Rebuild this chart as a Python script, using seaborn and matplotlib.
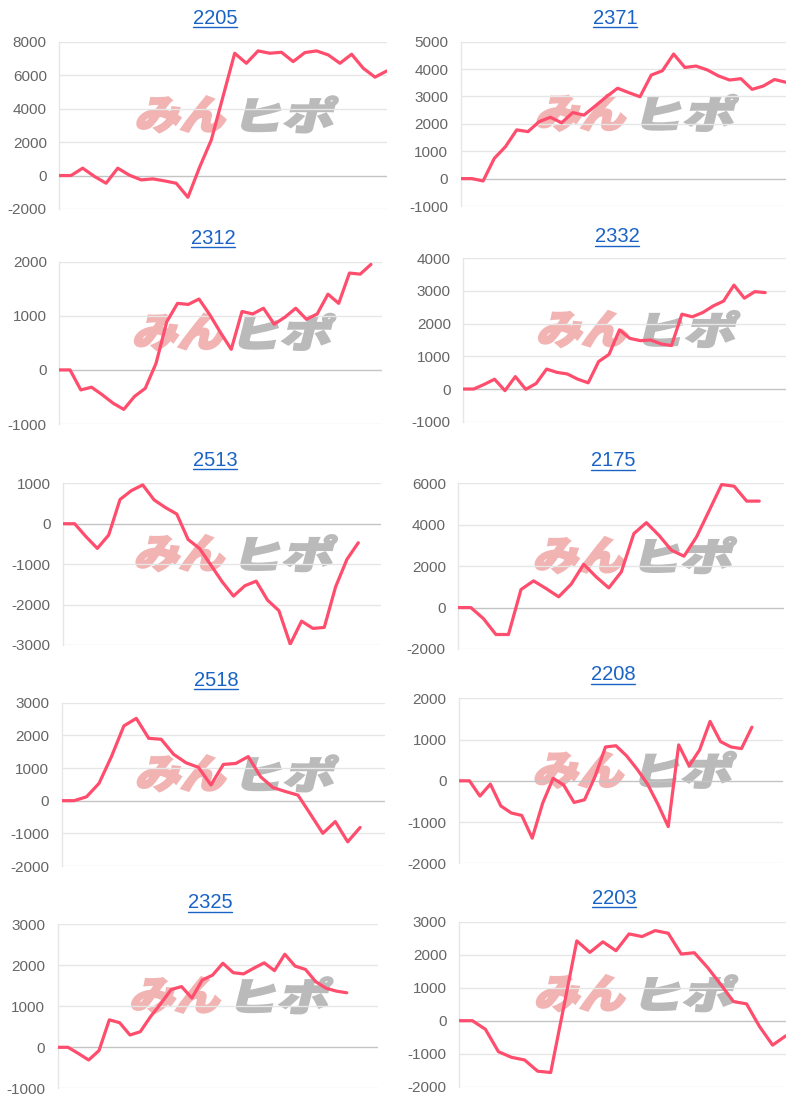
import numpy as np
import pandas as pd
import matplotlib
matplotlib.use("Agg")
import matplotlib.pyplot as plt
import seaborn as sns
from matplotlib.textpath import TextPath
from matplotlib.font_manager import FontProperties
from matplotlib.patches import PathPatch
from matplotlib.lines import Line2D
from matplotlib import transforms

# ---------------- data ----------------
titles = ["2205", "2371", "2312", "2332", "2513", "2175", "2518", "2208", "2325", "2203"]

v2205 = [0, 0, 440, -50, -460, 440, 20, -260, -200, -320, -460, -1300, 500, 2130, 4720,
         7310, 6710, 7450, 7310, 7370, 6810, 7350, 7450, 7210, 6710, 7250, 6410, 5880, 6250]
v2371 = [0, 0, -85, 740, 1170, 1780, 1715, 2080, 2240, 2040, 2410, 2320, 2650, 2990, 3300,
         3140, 2990, 3780, 3940, 4550, 4060, 4110, 3970, 3750, 3600, 3650, 3260, 3380, 3620, 3520]
v2312 = [0, 0, -370, -320, -460, -615, -730, -490, -340, 120, 890, 1230, 1210, 1310, 1020,
         690, 380, 1080, 1035, 1140, 845, 975, 1140, 935, 1035, 1400, 1230, 1790, 1770, 1950, None]
v2332 = [0, 0, 140, 300, -50, 380, -10, 170, 610, 510, 460, 300, 190, 840, 1060, 1810, 1550,
         1480, 1500, 1380, 1330, 2290, 2210, 2340, 2540, 2690, 3180, 2780, 2980, 2950, None, None]
v2513 = [0, 0, -320, -610, -280, 600, 820, 960, 590, 400, 240, -390, -610, -1020, -1435,
         -1790, -1535, -1420, -1890, -2150, -2980, -2410, -2590, -2565, -1560, -880, -470, None, None]
v2175 = [0, 0, -530, -1300, -1300, 870, 1290, 920, 520, 1130, 2090, 1480, 950, 1720, 3570,
         4100, 3490, 2770, 2480, 3410, 4670, 5940, 5860, 5140, 5140, None, None]
v2518 = [0, 0, 120, 530, 1350, 2290, 2520, 1910, 1880, 1420, 1160, 1020, 480, 1110, 1140,
         1350, 730, 400, 280, 170, -410, -1000, -640, -1260, -820, None, None]
v2208 = [0, 0, -370, -80, -610, -780, -840, -1390, -540, 60, -100, -525, -460, 100, 820, 850,
         610, 290, -70, -560, -1110, 870, 360, 750, 1440, 950, 820, 780, 1300, None, None, None]
v2325 = [0, 0, -150, -310, -80, 670, 600, 300, 380, 750, 1070, 1410, 1480, 1200, 1640, 1760,
         2050, 1820, 1790, 1930, 2060, 1870, 2270, 1980, 1900, 1600, 1440, 1370, 1330, None, None, None]
v2203 = [0, 0, -260, -940, -1110, -1190, -1530, -1570, 420, 2420, 2070, 2390, 2120, 2630,
         2550, 2730, 2650, 2020, 2060, 1620, 1110, 580, 510, -180, -740, -460]

series = [v2205, v2371, v2312, v2332, v2513, v2175, v2518, v2208, v2325, v2203]

ytick_min = [-2000, -1000, -1000, -1000, -3000, -2000, -2000, -2000, -1000, -2000]
ytick_max = [8000, 5000, 2000, 4000, 1000, 6000, 3000, 2000, 3000, 3000]
ytick_step = [2000, 1000, 1000, 1000, 1000, 2000, 1000, 1000, 1000, 1000]

# ---------------- layout (pixels, top-left origin) ----------------
W, H = 800, 1103
# left, right, top, bottom of plot area
rects = [
    (59.3, 386.7, 41.7, 209.0),
    (460.7, 785.7, 41.7, 206.0),
    (59.3, 381.7, 261.7, 424.0),
    (463.3, 786.0, 258.3, 421.7),
    (63.3, 381.0, 483.3, 645.0),
    (458.3, 784.3, 483.3, 649.0),
    (61.7, 385.0, 702.7, 866.0),
    (459.0, 783.3, 698.3, 863.3),
    (57.7, 377.7, 924.3, 1088.3),
    (459.3, 785.7, 921.7, 1086.7),
]
title_pos = [(215, 18), (615, 18), (213, 238), (617, 237), (215, 460),
             (613, 461), (216, 680), (613, 675), (210, 903), (614, 898)]

LINE = "#ff4d6d"
GRID = "#e6e6e6"
ZERO = "#c4c4c4"
TICK = "#666666"
TITLE = "#1a63c6"
PINK = "#f2b3b3"
GREYW = "#bababa"

sns.set_style("white")
plt.rcParams["font.family"] = ["Liberation Sans", "DejaVu Sans"]

fig = plt.figure(figsize=(W / 100, H / 100), dpi=100)
fig.patch.set_facecolor("white")

pix2fig = transforms.Affine2D().scale(1 / W, 1 / H) + fig.transFigure
cjk = FontProperties(family="Noto Sans CJK JP", weight="black")


def watermark(cx, cy):
    """cx, cy: centre of the logo in pixels (bottom-left origin)."""
    parts = [("みん", PINK, cx - 102, 97), ("ヒポ", GREYW, cx + 3, 100)]
    hgt = 36
    for txt, col, x0, w in parts:
        tp = TextPath((0, 0), txt, size=1, prop=cjk)
        ext = tp.get_extents()
        tr = (transforms.Affine2D()
              .translate(-ext.x0, -ext.y0)
              .scale(w / ext.width * 0.9, hgt / ext.height)
              .skew_deg(14, 0)
              .translate(x0, cy - hgt / 2))
        patch = PathPatch(tr.transform_path(tp), facecolor=col, edgecolor=col,
                          linewidth=1.6, joinstyle="miter",
                          transform=pix2fig, zorder=0.5)
        fig.add_artist(patch)


for i, (vals, ttl) in enumerate(zip(series, titles)):
    l, r, t, b = rects[i]
    ax = fig.add_axes([l / W, 1 - b / H, (r - l) / W, (b - t) / H])
    ax.patch.set_alpha(0)
    ax.set_zorder(2)
    df = pd.DataFrame({"x": np.arange(len(vals)),
                       "y": pd.to_numeric(pd.Series(vals), errors="coerce")})
    sns.lineplot(data=df.dropna(), x="x", y="y", ax=ax, color=LINE, linewidth=2.3, zorder=3)
    ax.set_xlim(0, len(vals) - 1)
    lo, hi, st = ytick_min[i], ytick_max[i], ytick_step[i]
    ticks = np.arange(lo, hi + st, st)
    ax.set_ylim(lo, hi)
    ax.set_yticks(ticks)
    ax.set_yticklabels([f"{int(v)}" for v in ticks])
    ax.set_xticks([])
    ax.set_xlabel("")
    ax.set_ylabel("")
    for v in ticks:
        ax.axhline(v, color=ZERO if v == 0 else GRID, linewidth=1.0, zorder=1)
    for s in ["top", "right", "bottom"]:
        ax.spines[s].set_visible(False)
    ax.spines["left"].set_color(GRID)
    ax.spines["left"].set_linewidth(1.0)
    ax.tick_params(axis="y", length=0, pad=9, labelsize=11, labelcolor=TICK)

    # watermark
    cx = (l + r) / 2 + 14
    cy = H - ((t + b) / 2 - 11)
    watermark(cx, cy)

    tx, ty = title_pos[i]
    fig.text(tx / W, 1 - ty / H, ttl, ha="center", va="center", fontsize=14.5,
             color=TITLE)

# underline titles
fig.canvas.draw()
renderer = fig.canvas.get_renderer()
for txt in fig.texts:
    bb = txt.get_window_extent(renderer)
    y = bb.y0 + 1
    fig.add_artist(Line2D([bb.x0 / W, bb.x1 / W], [y / H, y / H], color=TITLE,
                          linewidth=1.0, transform=fig.transFigure))

fig.savefig("out.png", dpi=100)
